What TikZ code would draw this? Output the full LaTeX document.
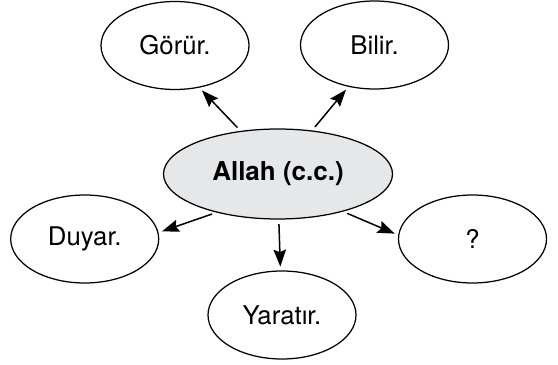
\documentclass[tikz,border=0pt]{standalone}
\usepackage{fontspec}
\setmainfont{TeX Gyre Heros}
\usetikzlibrary{shapes.geometric,arrows.meta}
\definecolor{hubgray}{RGB}{230,231,232}

\begin{document}
\begin{tikzpicture}[x=0.4pt, y=-0.4pt,
    bubble/.style={ellipse, draw, line width=0.5pt, inner sep=0pt,
        minimum width=59.2pt, minimum height=35.2pt,
        font=\fontsize{10.3}{12}\selectfont},
    hub/.style={bubble, fill=hubgray, minimum width=91.6pt, minimum height=36pt,
        font=\fontsize{10.4}{12}\selectfont\bfseries},
    link/.style={-{Stealth[length=6.8pt,width=5pt,inset=1pt]}, line width=0.6pt,
        shorten <=1.8pt, shorten >=1.5pt}]
    \useasboundingbox (0,0) rectangle (558,365);

    \node[hub] (allah) at (278,174) {Allah (c.c.)};

    \node[bubble] (gorur)   at (175,45.5) {Görür.};
    \node[bubble] (bilir)   at (374.5,45) {Bilir.};
    \node[bubble] (duyar)   at (84.7,239) {Duyar.};
    \node[bubble] (soru)    at (472.5,239) {?};
    \node[bubble] (yaratir) at (282,315)  {Yaratır.};

    \draw[link] (allah.131) -- (gorur.-60);
    \draw[link] (allah.52)  -- (bilir.238);
    \draw[link] (allah.212) -- (duyar.5);
    \draw[link] (allah.-89) -- (yaratir.92);
    \draw[link] (allah.-30) -- (soru.177);
\end{tikzpicture}
\end{document}
